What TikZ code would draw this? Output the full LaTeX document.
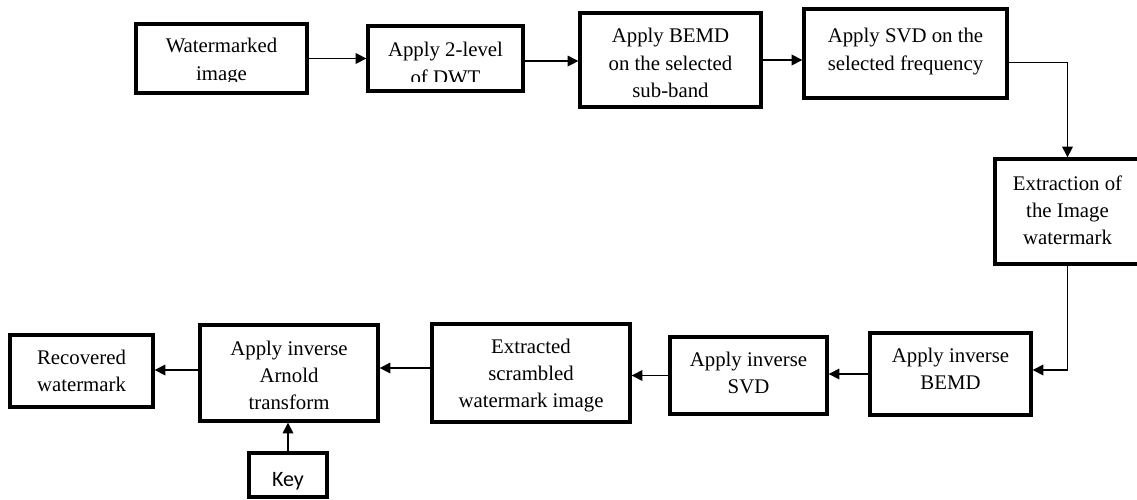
\documentclass[tikz,border=0pt]{standalone}
\usepackage{fontspec}
\setmainfont{Liberation Serif}
\newfontfamily\keyfont{Carlito}
\usetikzlibrary{arrows.meta,calc}
\newcommand{\boxlines}[1]{\begin{tabular}[t]{@{}c@{}}#1\end{tabular}}
\begin{document}
\begin{tikzpicture}[x=0.75pt,y=-0.75pt,
  blk/.style={draw, line width=2.5pt, rectangle, inner sep=0pt,
    font=\fontsize{15.6pt}{20.6pt}\selectfont, text height=0pt},
  conn/.style={line width=0.95pt, -{Triangle[length=8pt,width=8pt]}}]
\useasboundingbox (0,0) rectangle (1137,499);

% top row
\node[blk, minimum width=128.25pt, minimum height=51.75pt, text depth=8.25pt]
  (b1) at (221.5,58.5) {\boxlines{Watermarked\\image}};
\node[blk, minimum width=116.25pt, minimum height=48.75pt, text depth=2.25pt]
  (b2) at (445.5,58.5) {\boxlines{Apply 2-level\\of DWT}};
% the text of these two boxes is cut off at its bottom, as in the original
\fill[white] ($(b1.south west)+(3.6,-12.6)$) rectangle ($(b1.south east)+(-3.6,-3.4)$);
\fill[white] ($(b2.south west)+(3.6,-11.1)$) rectangle ($(b2.south east)+(-3.6,-3.4)$);

\node[blk, minimum width=135.75pt, minimum height=70.5pt, text depth=25.5pt]
  (b3) at (670.5,60) {\boxlines{Apply BEMD\\on the selected\\sub-band}};
\node[blk, minimum width=152.25pt, minimum height=66.75pt, text depth=15.75pt]
  (b4) at (905.5,53.5) {\boxlines{Apply SVD on the\\selected frequency}};

% right
\node[blk, minimum width=108.75pt, minimum height=78.75pt, text depth=32.25pt]
  (b5) at (1067.5,211.5) {\boxlines{Extraction of\\the Image\\watermark}};

% bottom row
\node[blk, minimum width=120.75pt, minimum height=61.5pt, text depth=18pt]
  (b6) at (950.5,374) {\boxlines{Apply inverse\\BEMD}};
\node[blk, minimum width=117.75pt, minimum height=57.75pt, text depth=14.25pt]
  (b7) at (748.5,375.5) {\boxlines{Apply inverse\\SVD}};
\node[blk, minimum width=148.5pt, minimum height=73.5pt, text depth=30pt]
  (b8) at (531,373) {\boxlines{Extracted\\scrambled\\watermark image}};
\node[blk, minimum width=133.5pt, minimum height=72pt, text depth=27pt]
  (b9) at (289,373) {\boxlines{Apply inverse\\Arnold\\transform}};
\node[blk, minimum width=107.25pt, minimum height=54pt, text depth=10.5pt]
  (b10) at (81.5,371) {\boxlines{Recovered\\watermark}};
\node[blk, minimum width=58.5pt, minimum height=33pt, text height=16.5pt, text depth=0pt,
  font=\keyfont\fontsize{16.5pt}{20pt}\selectfont]
  (key) at (288,475) {Key};

% connectors
\draw[conn] (b1) -- (b2);
\draw[conn] ([yshift=-1.9pt]b2.east) -- ([yshift=-1.9pt]b2.east -| b3.west);
\draw[conn] (b3.east) -- (b3.east -| b4.west);
\draw[conn] ([yshift=-7pt]b4.east) -| (b5.north);
\draw[conn] (b5.south) |- ([yshift=3pt]b6.east);
\draw[conn] (b6.west) -- (b6.west -| b7.east);
\draw[conn] (b7.west) -- (b7.west -| b8.east);
\draw[conn] ([yshift=3.75pt]b8.west) -- ([yshift=3.75pt]b8.west -| b9.east);
\draw[conn] ([yshift=2.25pt]b9.west) -- ([yshift=2.25pt]b9.west -| b10.east);
\draw[conn] (key.north) -- (key.north |- b9.south);
\end{tikzpicture}
\end{document}
